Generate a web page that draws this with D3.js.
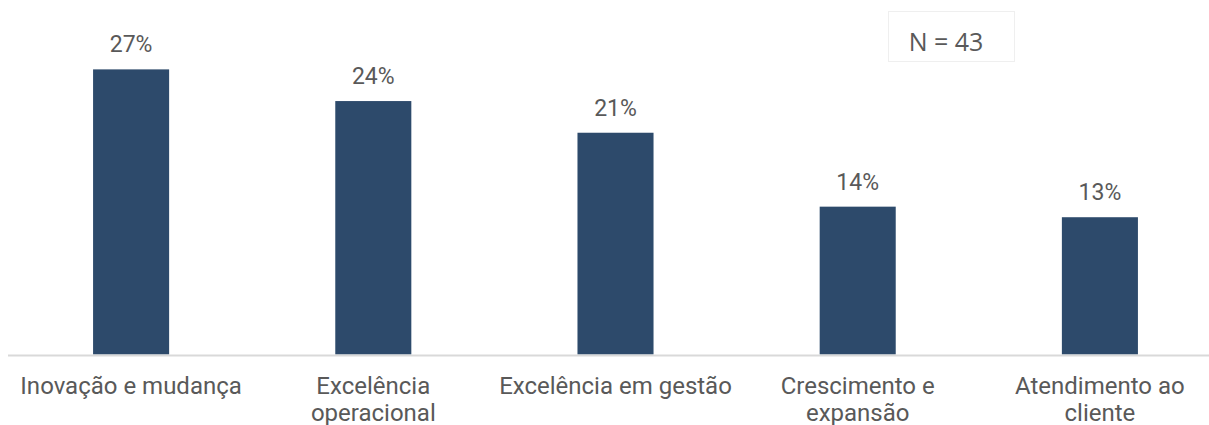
<!DOCTYPE html>
<html>
<head>
<meta charset="utf-8">
<script src="https://cdn.jsdelivr.net/npm/d3@7"></script>
<style>
  html, body { margin: 0; padding: 0; background: #ffffff; }
  svg { display: block; }
</style>
</head>
<body>
<svg id="chart" width="1209" height="425"></svg>
<script>
// Category labels (each entry is the list of lines shown under the bar)
const categories = [
  ["Inovação e mudança"],
  ["Excelência", "operacional"],
  ["Excelência em gestão"],
  ["Crescimento e", "expansão"],
  ["Atendimento ao", "cliente"]
];
// Share of respondents per category (%)
const values = [27, 24, 21, 14, 13];
const sampleLabel = "N = 43";

const baseline = 354.5;
const svg = d3.select("#chart");

const keys = categories.map((c, i) => i);
const x = d3.scaleBand()
  .domain(keys)
  .range([10, 1221])
  .paddingInner(0.686)
  .paddingOuter(0.343);

const y = d3.scaleLinear()
  .domain([0, 27])
  .range([baseline, baseline - 27 * 10.56]);

const barColor = "#2d4a6b";
const textColor = "#595959";
const font = "Roboto, 'Noto Sans', sans-serif";

// Bars
svg.append("g")
  .selectAll("rect")
  .data(values)
  .join("rect")
  .attr("x", (d, i) => x(i))
  .attr("y", d => y(d))
  .attr("width", x.bandwidth())
  .attr("height", d => baseline - y(d))
  .attr("fill", barColor);

// Baseline axis line
svg.append("line")
  .attr("x1", 8).attr("x2", 1209)
  .attr("y1", 355.6).attr("y2", 355.6)
  .attr("stroke", "#d9d9d9")
  .attr("stroke-width", 2);

// Value labels
svg.append("g")
  .selectAll("text")
  .data(values)
  .join("text")
  .attr("x", (d, i) => x(i) + x.bandwidth() / 2)
  .attr("y", d => y(d) - 17)
  .attr("text-anchor", "middle")
  .attr("font-family", font)
  .attr("font-size", 23)
  .attr("fill", textColor)
  .text(d => d + "%");

// Category labels
const cat = svg.append("g")
  .selectAll("text")
  .data(categories)
  .join("text")
  .attr("x", (d, i) => x(i) + x.bandwidth() / 2)
  .attr("y", 394)
  .attr("text-anchor", "middle")
  .attr("font-family", font)
  .attr("font-size", 24)
  .attr("fill", textColor);
cat.selectAll("tspan")
  .data(d => d)
  .join("tspan")
  .attr("x", function() { return this.parentNode.getAttribute("x"); })
  .attr("dy", (d, j) => j === 0 ? 0 : 27)
  .text(d => d);

// Sample size box
svg.append("rect")
  .attr("x", 888.5).attr("y", 11.5)
  .attr("width", 126).attr("height", 50)
  .attr("fill", "#ffffff")
  .attr("stroke", "#efefef")
  .attr("stroke-width", 1);
svg.append("text")
  .attr("x", 946).attr("y", 51)
  .attr("text-anchor", "middle")
  .attr("font-family", "'Open Sans', sans-serif")
  .attr("font-size", 25)
  .attr("fill", textColor)
  .text(sampleLabel);
</script>
</body>
</html>
